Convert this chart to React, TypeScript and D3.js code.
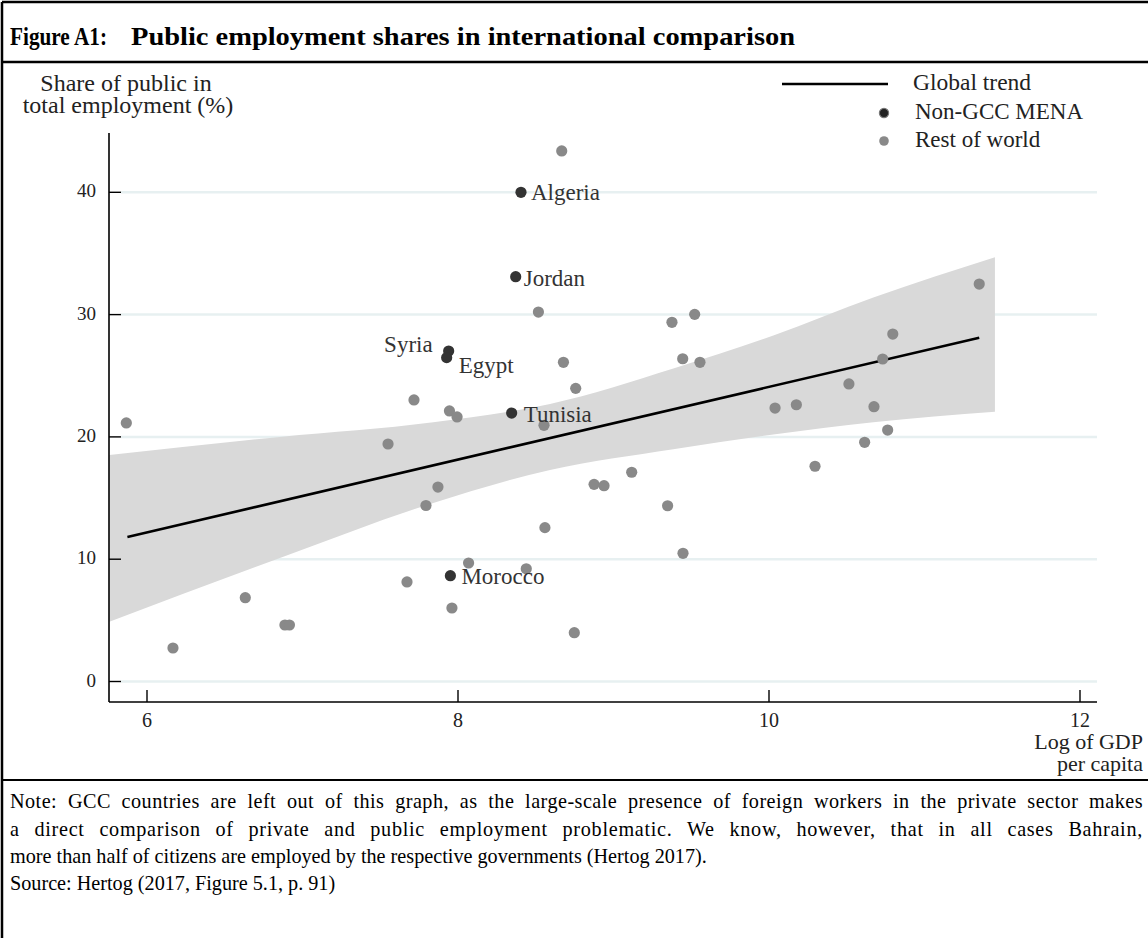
import React, { useLayoutEffect, useRef, useState } from "react";
import * as d3 from "d3";

// Rest-of-world countries: log GDP per capita vs public share of employment (%)
const restX = [5.867, 6.167, 6.632, 6.887, 6.916, 7.55, 7.717, 7.945, 7.994, 7.871, 7.794, 7.672, 7.961, 8.068, 8.439, 8.559, 8.667, 8.517, 8.678, 8.757, 8.553, 8.875, 8.939, 9.117, 8.748, 9.348, 9.447, 9.376, 9.522, 9.445, 9.556, 10.039, 10.176, 10.296, 10.514, 10.615, 10.675, 10.731, 10.763, 10.796, 11.352];
const restY = [21.14, 2.74, 6.85, 4.62, 4.62, 19.42, 23.02, 22.12, 21.63, 15.9, 14.39, 8.14, 6.01, 9.69, 9.22, 12.58, 43.38, 30.21, 26.1, 23.97, 20.95, 16.12, 16.01, 17.11, 3.99, 14.37, 10.48, 29.37, 30.02, 26.39, 26.1, 22.36, 22.63, 17.6, 24.33, 19.56, 22.47, 26.37, 20.56, 28.41, 32.5];

// Non-GCC MENA countries
const menaNames = ["Algeria", "Jordan", "Syria", "Egypt", "Tunisia", "Morocco"];
const menaX = [8.405, 8.371, 7.94, 7.927, 8.345, 7.951];
const menaY = [40.0, 33.1, 27.02, 26.48, 21.95, 8.65];

// Global linear trend and its confidence band
const trendX = [5.874, 11.352];
const trendY = [11.82, 28.11];
const bandX = [5.758, 6.855, 7.841, 8.592, 9.385, 10.028, 10.671, 11.453];
const bandLo = [4.89, 10.1, 14.6, 17.3, 19.0, 20.2, 21.2, 22.06];
const bandHi = [18.52, 20.0, 21.2, 22.7, 25.6, 28.3, 31.4, 34.69];

const xTicks = [6, 8, 10, 12];
const yTicks = [0, 10, 20, 30, 40];

const noteLines = [
  "Note: GCC countries are left out of this graph, as the large-scale presence of foreign workers in the private sector makes",
  "a direct comparison of private and public employment problematic. We know, however, that in all cases Bahrain,",
  "more than half of citizens are employed by the respective governments (Hertog 2017).",
];
const justifiedLines = [true, true, false];
const sourceLine = "Source: Hertog (2017, Figure 5.1, p. 91)";

const W = 1148;
const H = 938;
const SERIF = "'Liberation Serif', 'Times New Roman', serif";
const NOTE_LEFT = 10;
const NOTE_RIGHT = 1143;

const labelOffsets: Record<string, { dx: number; dy: number; anchor: "start" | "end" }> = {
  Algeria: { dx: 10, dy: 8, anchor: "start" },
  Jordan: { dx: 8, dy: 9, anchor: "start" },
  Syria: { dx: -16, dy: 1, anchor: "end" },
  Egypt: { dx: 12, dy: 15, anchor: "start" },
  Tunisia: { dx: 12, dy: 9, anchor: "start" },
  Morocco: { dx: 11, dy: 8, anchor: "start" },
};

type Spread = { word: number; letter: number };

export default function App() {
  const x = d3.scaleLinear().domain([6, 12]).range([147, 1080]);
  const y = d3.scaleLinear().domain([0, 40]).range([681.5, 192.3]);

  const axisLeft = 109;
  const axisBottom = 702;
  const plotRight = 1097;

  // spacing that stretches justified note lines to the full text width
  const noteRefs = useRef<(SVGTextElement | null)[]>([]);
  const [spreads, setSpreads] = useState<Spread[]>(noteLines.map(() => ({ word: 0, letter: 0 })));
  useLayoutEffect(() => {
    const next = noteLines.map((line, i) => {
      const el = noteRefs.current[i];
      if (!el || !justifiedLines[i]) return { word: 0, letter: 0 };
      const len = el.getComputedTextLength();
      const extra = Math.max(0, NOTE_RIGHT - NOTE_LEFT - len);
      const spaces = (line.match(/ /g) || []).length;
      const letter = (extra * 0.35) / line.length;
      const word = (extra * 0.65) / spaces;
      return { word, letter };
    });
    setSpreads(next);
  }, []);

  const bandData = bandX.map((v, i) => ({ x: v, lo: bandLo[i], hi: bandHi[i] }));
  const band = d3
    .area<{ x: number; lo: number; hi: number }>()
    .x((d) => x(d.x))
    .y0((d) => y(d.lo))
    .y1((d) => y(d.hi))
    .curve(d3.curveMonotoneX)(bandData);

  const trend = d3
    .line<number>()
    .x((d) => x(d))
    .y((_, i) => y(trendY[i]))(trendX);

  return (
    <svg
      width={W}
      height={H}
      style={{ position: "absolute", left: 0, top: 0, background: "#fff" }}
      fontFamily={SERIF}
    >
      {/* frame */}
      <line x1={2} y1={2} x2={W} y2={2} stroke="#000" strokeWidth={2.5} />
      <line x1={2} y1={2} x2={2} y2={H} stroke="#000" strokeWidth={2.5} />
      <line x1={2} y1={62} x2={W} y2={62} stroke="#000" strokeWidth={2.5} />
      <line x1={2} y1={780} x2={W} y2={780} stroke="#000" strokeWidth={2} />

      {/* title */}
      <text x={10} y={45} fontSize={24.5} fontWeight="bold" fill="#000" textLength={97} lengthAdjust="spacingAndGlyphs">
        Figure A1:
      </text>
      <text x={131} y={45} fontSize={24.5} fontWeight="bold" fill="#000" textLength={664} lengthAdjust="spacingAndGlyphs">
        Public employment shares in international comparison
      </text>

      {/* gridlines */}
      {yTicks.map((t) => (
        <line key={"g" + t} x1={axisLeft + 12} x2={plotRight} y1={y(t)} y2={y(t)} stroke="#e7f0f1" strokeWidth={2.5} />
      ))}

      {/* confidence band and trend */}
      <path d={band ?? ""} fill="#d9d9d9" />
      <path d={trend ?? ""} fill="none" stroke="#000" strokeWidth={2.6} />

      {/* axes */}
      <line x1={axisLeft} x2={axisLeft} y1={133} y2={axisBottom} stroke="#000" strokeWidth={1.6} />
      <line x1={axisLeft} x2={plotRight} y1={axisBottom} y2={axisBottom} stroke="#000" strokeWidth={1.6} />
      {yTicks.map((t) => (
        <g key={"yt" + t}>
          <line x1={axisLeft} x2={axisLeft + 12} y1={y(t)} y2={y(t)} stroke="#000" strokeWidth={1.4} />
          <text x={96} y={y(t) + 5} fontSize={19} textAnchor="end" fill="#222">
            {t}
          </text>
        </g>
      ))}
      {xTicks.map((t) => (
        <g key={"xt" + t}>
          <line x1={x(t)} x2={x(t)} y1={axisBottom} y2={axisBottom - 12} stroke="#000" strokeWidth={1.4} />
          <text x={x(t)} y={727} fontSize={20} textAnchor="middle" fill="#222">
            {t}
          </text>
        </g>
      ))}

      {/* axis titles */}
      <text x={126} y={91} fontSize={24} textAnchor="middle" fill="#222">
        Share of public in
      </text>
      <text x={128} y={113} fontSize={24} textAnchor="middle" fill="#222">
        total employment (%)
      </text>
      <text x={1143} y={749} fontSize={22} textAnchor="end" fill="#222">
        Log of GDP
      </text>
      <text x={1143} y={771} fontSize={22} textAnchor="end" fill="#222">
        per capita
      </text>

      {/* rest of world points */}
      {restX.map((v, i) => (
        <circle key={"r" + i} cx={x(v)} cy={y(restY[i])} r={5.6} fill="#898989" />
      ))}

      {/* non-GCC MENA points and labels */}
      {menaX.map((v, i) => {
        const name = menaNames[i];
        const o = labelOffsets[name];
        const cx = x(v);
        const cy = y(menaY[i]);
        return (
          <g key={name}>
            <circle cx={cx} cy={cy} r={5.6} fill="#333" />
            <text x={cx + o.dx} y={cy + o.dy} fontSize={23} textAnchor={o.anchor} fill="#333">
              {name}
            </text>
          </g>
        );
      })}

      {/* legend */}
      <line x1={782} x2={888} y1={84} y2={84} stroke="#000" strokeWidth={2.6} />
      <text x={913} y={90} fontSize={23.5} fill="#222">
        Global trend
      </text>
      <circle cx={884} cy={113} r={4.6} fill="#222" stroke="#777" strokeWidth={1.2} />
      <text x={915} y={119} fontSize={23} fill="#222">
        Non-GCC MENA
      </text>
      <circle cx={884} cy={141} r={4.8} fill="#898989" />
      <text x={915} y={147} fontSize={23} fill="#222">
        Rest of world
      </text>

      {/* note and source */}
      {noteLines.map((line, i) => (
        <text
          key={"n" + i}
          ref={(el) => {
            noteRefs.current[i] = el;
          }}
          x={NOTE_LEFT}
          y={808 + i * 27.5}
          fontSize={20.2}
          fill="#000"
          wordSpacing={spreads[i].word}
          letterSpacing={spreads[i].letter}
          style={{ whiteSpace: "pre" }}
        >
          {line}
        </text>
      ))}
      <text x={NOTE_LEFT} y={890} fontSize={20.2} fill="#000">
        {sourceLine}
      </text>
    </svg>
  );
}
